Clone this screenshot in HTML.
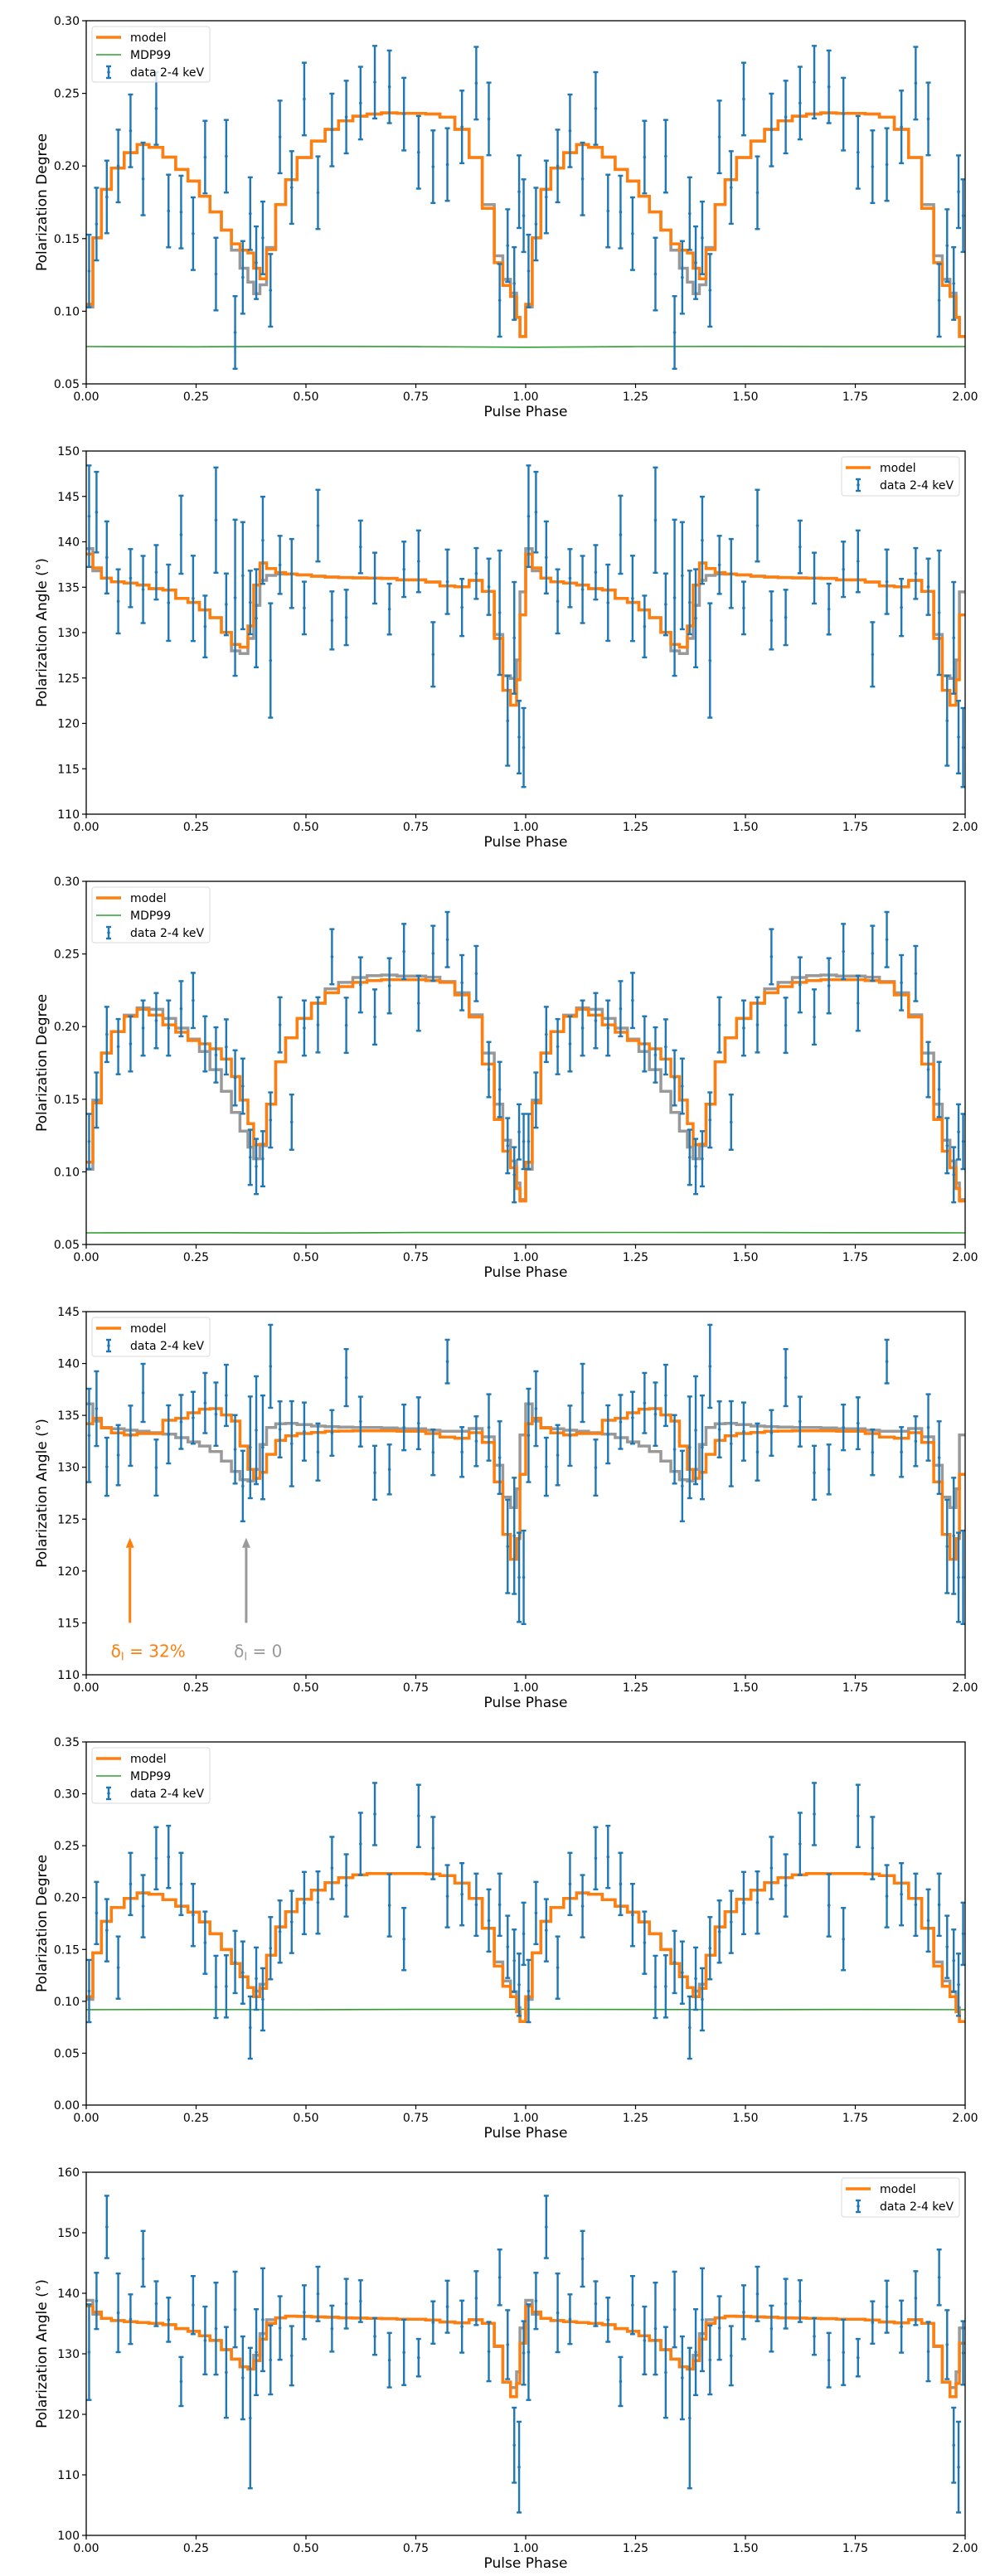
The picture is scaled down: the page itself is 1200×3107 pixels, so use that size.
<!DOCTYPE html>
<html><head><meta charset="utf-8">
<style>
html,body{margin:0;padding:0;background:#fff;}
svg{display:block;}
text{font-family:"DejaVu Sans","Liberation Sans",sans-serif;fill:#000;}
</style></head>
<body>
<svg id="fig" width="1200" height="3107" viewBox="0 0 1200 3107" xmlns="http://www.w3.org/2000/svg"></svg>
<script>
// ---- shared phase arrays (one cycle; repeated for phase 1-2) ----
const dataPhase = [0.0065,0.0234,0.0468,0.0728,0.1008,0.1294,0.1593,0.1873,0.2159,0.2432,0.2705,0.2952,0.3186,0.3388,0.3563,0.3732,0.3869,0.4018,0.4194,0.4408,0.4675,0.4961,0.5273,0.5592,0.5917,0.6242,0.6567,0.6899,0.7230,0.7562,0.7893,0.8218,0.8550,0.8875,0.9161,0.9408,0.9590,0.9740,0.9850,0.9954];
const modelEdges = [0,0.015,0.0345,0.0572,0.0865,0.1157,0.143,0.1743,0.2035,0.2315,0.2575,0.2815,0.3075,0.3303,0.3498,0.368,0.381,0.3953,0.4103,0.4311,0.4538,0.4798,0.5124,0.5436,0.5741,0.6066,0.6391,0.6717,0.7074,0.7724,0.8049,0.8388,0.8713,0.9012,0.9285,0.948,0.9655,0.9792,0.987];
const xTicks = [0,0.25,0.5,0.75,1.0,1.25,1.5,1.75,2.0];
const xTickLabels = ["0.00","0.25","0.50","0.75","1.00","1.25","1.50","1.75","2.00"];

// ---- panel 1: polarization degree ----
const p1Data = [0.1277,0.160,0.1787,0.200,0.2242,0.1911,0.2396,0.169,0.1683,0.1534,0.2061,0.1256,0.2067,0.0854,0.1233,0.1672,0.1334,0.1505,0.1144,0.2200,0.1852,0.2461,0.1816,0.2248,0.2337,0.2433,0.2577,0.2545,0.2357,0.2094,0.1995,0.2010,0.2269,0.2570,0.2324,0.1075,0.1452,0.1191,0.1823,0.1658];
const p1Err = [0.025];
const p1Model = [0.1048,0.1505,0.1839,0.1985,0.2092,0.2147,0.2128,0.2061,0.1976,0.1896,0.1791,0.1684,0.1559,0.1464,0.1420,0.1401,0.1296,0.1224,0.1424,0.1734,0.1905,0.2058,0.2172,0.2252,0.2311,0.2343,0.2358,0.2366,0.2362,0.2358,0.2337,0.2252,0.2058,0.1709,0.1334,0.1178,0.1102,0.0957,0.0826];
const p1Gray = [0.1029,0.1505,0.1839,0.1985,0.2092,0.2147,0.2128,0.2061,0.1976,0.1896,0.1791,0.1684,0.1559,0.1420,0.1296,0.1201,0.1121,0.1182,0.1439,0.1734,0.1905,0.2058,0.2172,0.2252,0.2311,0.2343,0.2358,0.2366,0.2362,0.2358,0.2337,0.2252,0.2058,0.1734,0.1382,0.1220,0.1125,0.0957,0.0826];
const p1Mdp = [0.0757,0.0755,0.0758,0.0756,0.0752,0.0757,0.0758,0.0756,0.0757];
const p1Ticks = [0.05,0.10,0.15,0.20,0.25,0.30];
const p1TickLabels = ["0.05","0.10","0.15","0.20","0.25","0.30"];

// ---- panel 2: polarization angle ----
const p2Data = [142.82,143.27,138.28,133.44,136.0,134.75,136.64,133.29,140.78,133.77,130.67,142.39,133.11,133.84,136.27,133.32,131.58,140.17,126.93,137.46,136.51,132.71,141.78,131.34,131.67,139.44,136.0,132.59,136.97,137.85,127.6,135.6,132.77,136.51,135.05,132.19,120.29,129.42,118.49,117.34];
const p2Err = [5.59,4.44,3.97,3.53,3.2,3.7,3.0,4.2,4.3,4.7,3.4,5.8,3.4,8.6,5.9,3.5,5.4,4.8,6.3,3.2,3.8,2.9,3.95,3.2,3.05,2.9,2.8,2.8,3.05,3.4,3.55,3.55,3.15,2.8,3.1,6.85,4.95,6.15,4.0,4.35];
const p2Model = [138.65,137.12,136.0,135.6,135.45,135.24,134.84,134.69,133.77,133.32,132.5,131.64,130.03,128.69,128.39,130.73,135.24,137.67,137.06,136.61,136.45,136.36,136.21,136.12,136.06,136.03,136.0,135.97,135.81,135.57,135.14,135.05,135.75,134.54,129.36,123.64,122.0,124.8,131.95];
const p2Gray = [139.25,136.8,136.0,135.6,135.45,135.24,134.84,134.69,133.77,133.32,132.5,131.64,130.03,127.99,127.69,129.36,133.0,135.75,136.3,136.45,136.45,136.36,136.21,136.12,136.06,136.03,136.0,135.97,135.81,135.57,135.14,135.05,135.75,134.54,129.8,125.25,124.95,126.99,134.48];
const p2Ticks = [110,115,120,125,130,135,140,145,150];
const p2TickLabels = ["110","115","120","125","130","135","140","145","150"];

// ---- panel 3: polarization degree ----
const p3Data = [0.1209,0.1494,0.1946,0.1862,0.1881,0.1990,0.2041,0.1990,0.2123,0.2180,0.1881,0.1805,0.1860,0.1647,0.1590,0.1100,0.1037,0.1090,0.1357,0.2012,0.1342,0.1990,0.2012,0.2481,0.2009,0.2287,0.2066,0.2281,0.2517,0.2161,0.2504,0.2599,0.2302,0.2365,0.1704,0.1567,0.1180,0.0980,0.1275,0.1209];
const p3Err = [0.019];
const p3Model = [0.1066,0.1475,0.1818,0.1965,0.2070,0.2119,0.2079,0.2012,0.1961,0.1904,0.1881,0.1847,0.1776,0.1656,0.1494,0.1332,0.1186,0.1190,0.1466,0.1757,0.1923,0.2056,0.2161,0.2233,0.2275,0.2304,0.2317,0.2323,0.2323,0.2317,0.2304,0.2218,0.2066,0.1742,0.1361,0.1142,0.1028,0.0885,0.0799];
const p3Gray = [0.1018,0.1494,0.1818,0.1965,0.2079,0.2129,0.2119,0.2056,0.1990,0.1914,0.1828,0.1704,0.1555,0.1409,0.1281,0.1170,0.1090,0.1180,0.1466,0.1757,0.1923,0.2056,0.2161,0.2260,0.2304,0.2338,0.2351,0.2355,0.2348,0.2340,0.2310,0.2233,0.2081,0.1818,0.1466,0.1218,0.1075,0.0923,0.0809];
const p3Mdp = [0.0580,0.0581,0.0579,0.0582,0.0582,0.0583,0.0582,0.0581,0.0580];

// ---- panel 4: polarization angle with arrows ----
const p4Data = [133.07,135.65,130.05,131.17,133.04,137.17,129.97,133.17,134.37,134.77,136.19,135.12,136.93,131.73,128.19,131.92,133.57,131.92,139.73,133.65,132.27,133.44,131.47,133.31,138.64,134.4,129.47,129.79,133.84,134.24,131.44,140.19,131.47,132.51,133.84,130.93,122.37,123.39,119.39,119.39];
const p4Err = [4.5,3.6,2.8,2.9,2.9,2.8,2.7,2.8,2.6,2.5,2.9,3.05,2.95,3.3,3.4,4.9,5.2,5.0,4.0,2.7,4.1,2.8,2.75,2.2,2.75,2.4,2.6,2.4,2.2,2.5,2.2,2.1,2.4,2.4,3.2,3.5,4.5,5.6,4.3,4.5];
const p4Model = [134.19,134.72,133.79,133.31,133.12,133.25,133.25,134.53,134.72,135.25,135.6,135.65,135.04,134.45,132.05,129.79,128.93,129.52,131.25,132.59,133.04,133.25,133.36,133.47,133.49,133.52,133.52,133.52,133.47,133.25,132.91,132.8,133.33,132.4,128.59,123.52,121.12,123.12,129.31];
const p4Gray = [136.11,134.45,133.84,133.71,133.57,133.47,133.33,133.2,132.85,132.45,132.05,131.52,130.59,129.6,128.8,128.67,129.79,132.19,133.84,134.19,134.24,134.11,133.97,133.92,133.87,133.84,133.84,133.79,133.71,133.57,133.47,133.47,133.73,132.93,130.19,127.12,126.11,127.92,133.12];
const p4Ticks = [110,115,120,125,130,135,140,145];
const p4TickLabels = ["110","115","120","125","130","135","140","145"];
const arrowPhase = [0.0995,0.364];
const arrowFrom = [115,115];
const arrowTo = [123.2,123.2];

// ---- panel 5: polarization degree ----
const p5Data = [0.1099,0.1851,0.1685,0.1325,0.2131,0.1917,0.2379,0.2392,0.2131,0.1832,0.1565,0.1139,0.1144,0.1379,0.1277,0.0747,0.1219,0.1019,0.1512,0.1672,0.1765,0.1947,0.1952,0.2285,0.2117,0.2517,0.2805,0.1925,0.16,0.2787,0.2477,0.2013,0.2032,0.1931,0.1779,0.1931,0.1525,0.1392,0.116,0.1651];
const p5Err = [0.030];
const p5Model = [0.1045,0.1467,0.1771,0.1904,0.1992,0.2045,0.2032,0.1979,0.1917,0.1859,0.1765,0.1651,0.1499,0.1365,0.1237,0.1133,0.1045,0.1125,0.1445,0.1717,0.1864,0.1984,0.2072,0.2144,0.2192,0.2219,0.2232,0.2232,0.2232,0.2227,0.2211,0.2139,0.1992,0.1704,0.1339,0.1144,0.1045,0.0899,0.0805];
const p5Gray = [0.1019,0.1467,0.1771,0.1904,0.1992,0.2045,0.2032,0.1979,0.1917,0.1859,0.1765,0.1651,0.1499,0.1365,0.1237,0.1133,0.1099,0.1165,0.1445,0.1717,0.1864,0.1984,0.2072,0.2144,0.2192,0.2219,0.2232,0.2232,0.2232,0.2227,0.2211,0.2139,0.1992,0.1704,0.1379,0.1197,0.1093,0.0939,0.0805];
const p5Mdp = [0.0920,0.0921,0.0919,0.0922,0.0923,0.0921,0.0920,0.0921,0.0920];
const p5Ticks = [0.00,0.05,0.10,0.15,0.20,0.25,0.30,0.35];
const p5TickLabels = ["0.00","0.05","0.10","0.15","0.20","0.25","0.30","0.35"];

// ---- panel 6: polarization angle ----
const p6Data = [130.27,138.74,150.96,136.77,135.72,145.7,138.28,135.63,125.42,138.05,132.2,134.16,126.93,137.32,126.02,119.38,130.27,135.63,128.99,134.26,129.68,136.87,139.89,134.16,138.28,138.7,132.88,128.95,130.23,129.36,135.17,137.78,134.49,139.2,130.37,142.63,131.51,114.9,111.28,130.14];
const p6Err = [7.9,4.65,5.15,6.5,4.1,4.6,3.7,3.65,4.05,4.8,5.6,7.6,7.5,6.25,6.85,11.6,7.1,8.5,5.7,5.25,4.9,4.45,4.5,3.8,4.1,3.45,3.05,4.5,5.4,3.1,3.5,4.3,4.3,4.45,4.9,4.6,5.7,6.2,7.5,5.25];
const p6Model = [137.92,136.91,135.86,135.49,135.31,135.17,135.03,134.81,134.16,133.71,132.98,132.2,130.69,129.13,127.85,127.48,128.86,132.43,135.03,135.95,136.22,136.18,136.09,136.04,135.95,135.9,135.86,135.81,135.72,135.58,135.26,135.13,135.63,135.03,131.3,125.33,122.91,125.1,131.74];
const p6Gray = [138.83,136.54,135.86,135.49,135.31,135.17,135.03,134.81,134.16,133.71,132.98,132.2,130.69,129.13,127.85,127.48,129.77,133.34,135.63,135.95,136.22,136.18,136.09,136.04,135.95,135.9,135.86,135.81,135.72,135.58,135.26,135.13,135.63,135.03,131.2,125.33,124.42,127.02,134.26];
const p6Ticks = [100,110,120,130,140,150,160];
const p6TickLabels = ["100","110","120","130","140","150","160"];

const NS = "http://www.w3.org/2000/svg";
const fig = document.getElementById('fig');
function mk(tag, attrs, parent){
  const e = document.createElementNS(NS, tag);
  for (const k in attrs) e.setAttribute(k, attrs[k]);
  (parent||fig).appendChild(e);
  return e;
}
const L = 104, R = 1164, H = 438;

function panel(cfg){
  const top = cfg.top, bot = top + H;
  const g = mk('g', {});
  
  
  const X = p => L + (p/2)*(R-L);
  const Y = v => bot - (v-cfg.ymin)/(cfg.ymax-cfg.ymin)*H;
  const defs = mk('clipPath', {id:'clip'+cfg.idx}, g);
  mk('rect', {x:L, y:top, width:R-L, height:H}, defs);
  const plot = mk('g', {'clip-path':'url(#clip'+cfg.idx+')'}, g);
  if (cfg.mdp){
    let d = '';
    cfg.mdp.forEach((v,i)=>{ const p = 2*i/(cfg.mdp.length-1); d += (i?'L':'M')+X(p).toFixed(1)+' '+Y(v).toFixed(1); });
    const ln = mk('path', {d:d, fill:'none', stroke:'#2ca02c', 'stroke-width':1.6}, plot);
    
    
  }
  function step(vals, color, name){
    let d = '';
    for (let c=0;c<2;c++){
      for (let i=0;i<modelEdges.length;i++){
        const x0 = X(c+modelEdges[i]);
        const x1 = X(c+(i+1<modelEdges.length?modelEdges[i+1]:1));
        const y = Y(vals[i]).toFixed(1);
        d += (d?'L':'M')+x0.toFixed(1)+' '+y+'L'+x1.toFixed(1)+' '+y;
      }
    }
    const s = mk('path', {d:d, fill:'none', stroke:color, 'stroke-width':3.5, 'stroke-linejoin':'miter'}, plot);
    
    
  }
  step(cfg.gray, '#999999', 'model-gray-step');
  step(cfg.model, '#ff7f0e', 'model-step');
  for (let c=0;c<2;c++){
    cfg.data.forEach((v,i)=>{
      const e = cfg.err.length>1 ? cfg.err[i] : cfg.err[0];
      const x = X(c+dataPhase[i]);
      const y0 = Y(v+e), y1 = Y(v-e);
      const eg = mk('g', {stroke:'#1f77b4', 'stroke-width':2.4}, plot);
      
      
      mk('line', {x1:x, x2:x, y1:y0, y2:y1}, eg);
      mk('line', {x1:x-3, x2:x+3, y1:y0, y2:y0}, eg);
      mk('line', {x1:x-3, x2:x+3, y1:y1, y2:y1}, eg);
      mk('circle', {cx:x, cy:Y(v), r:1.8, fill:'#1f77b4', stroke:'none'}, eg);
    });
  }
  if (cfg.arrows){
    const cols = ['#ff7f0e','#999999'];
    const names = ['arrow-delta-32','arrow-delta-0'];
    arrowPhase.forEach((p,i)=>{
      const x = X(p), ya = Y(arrowFrom[i]), yb = Y(arrowTo[i]);
      const ag = mk('g', {}, g);
      
      
      mk('line', {x1:x, x2:x, y1:ya, y2:yb+12, stroke:cols[i], 'stroke-width':3}, ag);
      mk('polygon', {points:`${x-5},${yb+12} ${x+5},${yb+12} ${x},${yb}`, fill:cols[i]}, ag);
    });
    const t1 = mk('text', {x:X(0.056), y:Y(111.7), 'font-size':20, style:'fill:#ff7f0e'}, g);
    t1.innerHTML = 'δ<tspan font-size="13" dy="4">I</tspan><tspan dy="-4"> = 32%</tspan>';
    
    
    const t2 = mk('text', {x:X(0.336), y:Y(111.7), 'font-size':20, style:'fill:#999999'}, g);
    t2.innerHTML = 'δ<tspan font-size="13" dy="4">I</tspan><tspan dy="-4"> = 0</tspan>';
    
    
  }
  const fr = mk('rect', {x:L, y:top, width:R-L, height:H, fill:'none', stroke:'#000', 'stroke-width':1.3}, g);
  
  
  xTicks.forEach((t,i)=>{
    const x = X(t);
    mk('line', {x1:x, x2:x, y1:bot, y2:bot+5, stroke:'#000', 'stroke-width':1.2}, g);
    const tx = mk('text', {x:x, y:bot+20, 'font-size':14, 'text-anchor':'middle'}, g);
    tx.textContent = xTickLabels[i];
    
    
  });
  cfg.ticks.forEach((t,i)=>{
    const y = Y(t);
    mk('line', {x1:L-5, x2:L, y1:y, y2:y, stroke:'#000', 'stroke-width':1.2}, g);
    const ty = mk('text', {x:L-8, y:y+5, 'font-size':14, 'text-anchor':'end'}, g);
    ty.textContent = cfg.tickLabels[i];
    
    
  });
  const xl = mk('text', {x:(L+R)/2, y:bot+39, 'font-size':17, 'text-anchor':'middle'}, g);
  xl.textContent = 'Pulse Phase';
  
  
  const yl = mk('text', {x:0, y:0, 'font-size':17, 'text-anchor':'middle', transform:`translate(56,${top+H/2}) rotate(-90)`}, g);
  yl.textContent = cfg.ylabel;
  
  
  const rows = cfg.mdp ? ['model','MDP99','data 2-4 keV'] : ['model','data 2-4 keV'];
  const lw = 142, lh = rows.length===3 ? 67 : 47;
  const lx = cfg.legendRight ? R-7-lw : L+7;
  const ly = top+7;
  const lg = mk('g', {}, g);
  
  
  mk('rect', {x:lx, y:ly, width:lw, height:lh, rx:3, fill:'#fff', 'fill-opacity':0.8, stroke:'#d9d9d9', 'stroke-width':1}, lg);
  rows.forEach((r,i)=>{
    const cy = ly+13+i*21;
    const eg = mk('g', {}, lg);
    
    
    if (r==='model') mk('line', {x1:lx+5, x2:lx+35, y1:cy, y2:cy, stroke:'#ff7f0e', 'stroke-width':3.5}, eg);
    else if (r==='MDP99') mk('line', {x1:lx+5, x2:lx+35, y1:cy, y2:cy, stroke:'#2ca02c', 'stroke-width':1.6}, eg);
    else {
      const x = lx+20;
      mk('line', {x1:x, x2:x, y1:cy-7, y2:cy+7, stroke:'#1f77b4', 'stroke-width':2.4}, eg);
      mk('line', {x1:x-3, x2:x+3, y1:cy-7, y2:cy-7, stroke:'#1f77b4', 'stroke-width':2.4}, eg);
      mk('line', {x1:x-3, x2:x+3, y1:cy+7, y2:cy+7, stroke:'#1f77b4', 'stroke-width':2.4}, eg);
      mk('circle', {cx:x, cy:cy, r:1.8, fill:'#1f77b4'}, eg);
    }
    const t = mk('text', {x:lx+46, y:cy+5, 'font-size':14}, eg);
    t.textContent = r;
  });
}

const degLabel = 'Polarization Degree';
const angLabel = 'Polarization Angle (°)';
panel({idx:1, name:'panel-1-degree', top:25, ymin:0.05, ymax:0.30, ticks:p1Ticks, tickLabels:p1TickLabels, data:p1Data, err:p1Err, model:p1Model, gray:p1Gray, mdp:p1Mdp, ylabel:degLabel});
panel({idx:2, name:'panel-2-angle', top:544, ymin:110, ymax:150, ticks:p2Ticks, tickLabels:p2TickLabels, data:p2Data, err:p2Err, model:p2Model, gray:p2Gray, ylabel:angLabel, legendRight:true});
panel({idx:3, name:'panel-3-degree', top:1063, ymin:0.05, ymax:0.30, ticks:p1Ticks, tickLabels:p1TickLabels, data:p3Data, err:p3Err, model:p3Model, gray:p3Gray, mdp:p3Mdp, ylabel:degLabel});
panel({idx:4, name:'panel-4-angle', top:1582, ymin:110, ymax:145, ticks:p4Ticks, tickLabels:p4TickLabels, data:p4Data, err:p4Err, model:p4Model, gray:p4Gray, ylabel:angLabel, arrows:true});
panel({idx:5, name:'panel-5-degree', top:2101, ymin:0.0, ymax:0.35, ticks:p5Ticks, tickLabels:p5TickLabels, data:p5Data, err:p5Err, model:p5Model, gray:p5Gray, mdp:p5Mdp, ylabel:degLabel});
panel({idx:6, name:'panel-6-angle', top:2620, ymin:100, ymax:160, ticks:p6Ticks, tickLabels:p6TickLabels, data:p6Data, err:p6Err, model:p6Model, gray:p6Gray, ylabel:angLabel, legendRight:true});
</script>
</body></html>
